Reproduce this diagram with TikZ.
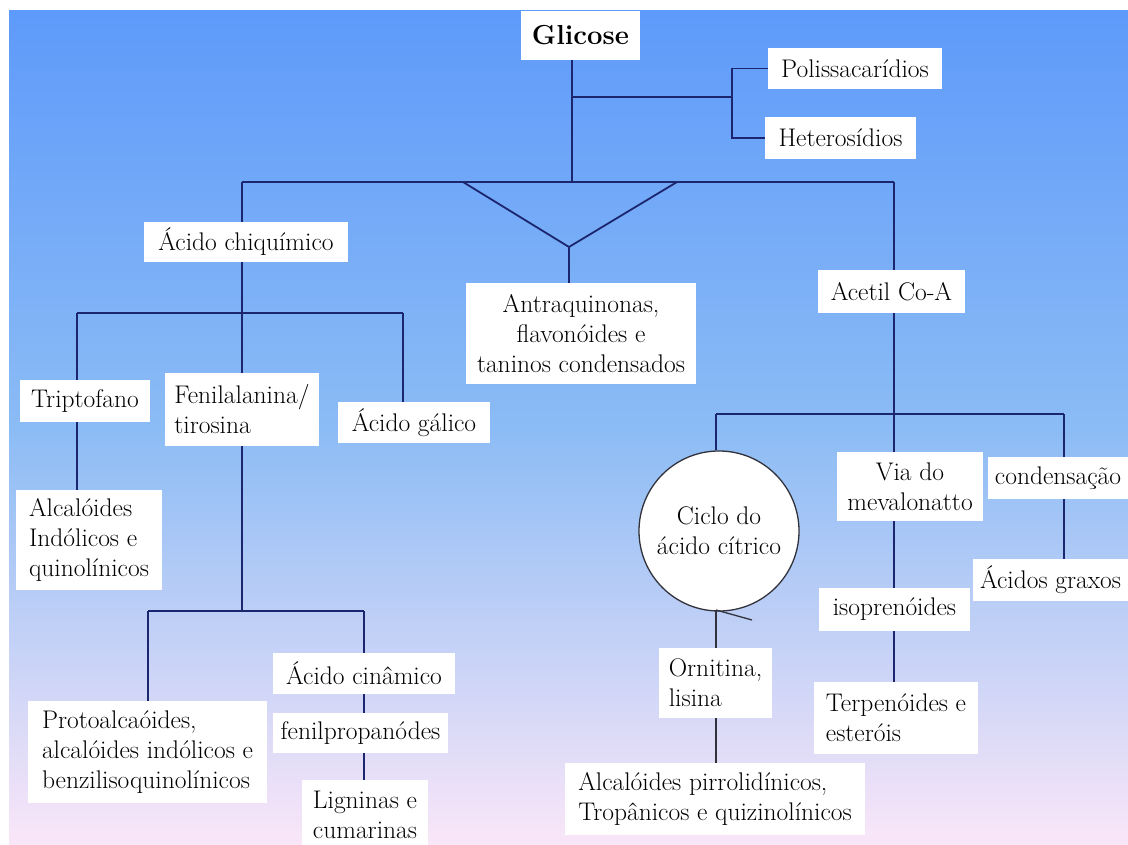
\documentclass[tikz,border=0pt]{standalone}
\usepackage{fontspec}
\definecolor{linecol}{RGB}{28,38,110}
\definecolor{circcol}{RGB}{50,50,60}
\definecolor{bgtop}{RGB}{94,154,250}
\definecolor{bgmid}{RGB}{140,188,245}
\definecolor{bgbot}{RGB}{250,230,248}
\begin{document}
\begin{tikzpicture}[x=1pt,y=-1pt,
  box/.style={fill=white, inner sep=0pt, font=\fontsize{25.5}{30}\selectfont, align=center},
  lbox/.style={box, align=left},
  ln/.style={draw=linecol, line width=1.8pt},
  thin ln/.style={draw=circcol, line width=1.3pt}
]
\useasboundingbox (0,0) rectangle (1128,845);
\fill[white] (0,0) rectangle (1128,845);
\shade[top color=bgtop, bottom color=bgmid] (9,11) rectangle (1128,431);
\shade[top color=bgmid, bottom color=bgbot] (9,430) rectangle (1128,845);

% nodes
\node[box, font=\fontsize{27.5}{33}\selectfont\bfseries, minimum width=119, minimum height=49] (glic) at (580.5,35.5) {Glicose};
\node[box, minimum width=174, minimum height=41] (polis) at (855,68.5) {Polissacarídios};
\node[box, minimum width=151, minimum height=42] (hetero) at (840.5,138) {Heterosídios};
\node[box, minimum width=204, minimum height=40] (chiq) at (246,242) {Ácido chiquímico};
\node[box, minimum width=230, minimum height=101] (antra) at (581,333.5) {Antraquinonas,\\flavonóides e\\taninos condensados};
\node[box, minimum width=147, minimum height=43] (acetil) at (891.5,291.5) {Acetil Co-A};
\node[box, minimum width=130, minimum height=42] (tript) at (85,401) {Triptofano};
\node[lbox, minimum width=146, minimum height=100] (alcind) at (89,540) {Alcalóides\\Indólicos e\\quinolínicos};
\node[lbox, minimum width=154, minimum height=73] (fenil) at (242,409.5) {Fenilalanina/\\tirosina};
\node[box, minimum width=152, minimum height=41] (galico) at (414,422.5) {Ácido gálico};
\node[circle, draw=circcol, line width=1.3pt, fill=white, inner sep=0pt, minimum size=160,
      font=\fontsize{25.5}{30}\selectfont, align=center] (ciclo) at (719,531) {Ciclo do\\ácido cítrico};
\node[box, minimum width=146, minimum height=69] (via) at (910,486.5) {Via do\\mevalonatto};
\node[box, minimum width=140, minimum height=42] (cond) at (1058,478) {condensação};
\node[box, minimum width=155, minimum height=42] (graxos) at (1050.5,580) {Ácidos graxos};
\node[box, minimum width=151, minimum height=43] (isopren) at (894.5,609.5) {isoprenóides};
\node[lbox, minimum width=164, minimum height=72] (terp) at (896,718) {Terpenóides e\\esteróis};
\node[lbox, minimum width=113, minimum height=70] (ornit) at (715.5,683) {Ornitina,\\lisina};
\node[lbox, minimum width=300, minimum height=72] (alcpir) at (715,799) {Alcalóides pirrolidínicos,\\Tropânicos e quizinolínicos};
\node[lbox, minimum width=239, minimum height=102] (proto) at (147.5,752) {Protoalcaóides,\\alcalóides indólicos e\\benzilisoquinolínicos};
\node[box, minimum width=182, minimum height=41] (cinam) at (364,673.5) {Ácido cinâmico};
\node[box, minimum width=175, minimum height=40] (fenilprop) at (360.5,733) {fenilpropanódes};
\node[box, minimum width=126, minimum height=70] (lign) at (365,815) {Ligninas e\\cumarinas};

% junctions
\coordinate (s1) at (572,97);
\coordinate (s2) at (732,97);
\coordinate (h0) at (572,182);
\coordinate (hL) at (242,182);
\coordinate (hR) at (894,182);
\coordinate (vL) at (463,182);
\coordinate (vR) at (677,182);
\coordinate (vB) at (569,247);
\coordinate (c0) at (242,313);
\coordinate (cL) at (77,313);
\coordinate (cR) at (403,313);
\coordinate (f0) at (242,611);
\coordinate (fL) at (148,611);
\coordinate (fR) at (364,611);
\coordinate (a0) at (894,414);
\coordinate (aL) at (716,414);
\coordinate (aR) at (1064,414);
\coordinate (t0) at (716,610);
\coordinate (t1) at (752,620);

% connectors
\draw[ln] (glic.south -| h0) -- (h0);
\draw[ln] (s1) -- (s2);
\draw[ln] (polis.west) -| (s2) |- (hetero.west);
\draw[ln] (hL) -- (hR);
\draw[ln] (hL) -- (chiq.north -| hL);
\draw[ln] (vL) -- (vB) -- (vR);
\draw[ln] (vB) -- (antra.north -| vB);
\draw[ln] (hR) -- (acetil.north -| hR);
\draw[ln] (chiq.south -| c0) -- (c0);
\draw[ln] (cL) -- (cR);
\draw[ln] (cL) -- (tript.north -| cL);
\draw[ln] (tript.south -| cL) -- (alcind.north -| cL);
\draw[ln] (c0) -- (fenil.north -| c0);
\draw[ln] (cR) -- (galico.north -| cR);
\draw[ln] (fenil.south -| f0) -- (f0);
\draw[ln] (fL) -- (fR);
\draw[ln] (fL) -- (proto.north -| fL);
\draw[ln] (fR) -- (cinam.north -| fR);
\draw[ln] (cinam.south -| fR) -- (fenilprop.north -| fR);
\draw[ln] (fenilprop.south -| fR) -- (lign.north -| fR);
\draw[ln] (acetil.south -| a0) -- (a0);
\draw[ln] (aL) -- (aR);
\draw[ln] (aL) -- (ciclo.north -| aL);
\draw[ln] (a0) -- (via.north -| a0);
\draw[ln] (aR) -- (cond.north -| aR);
\draw[ln] (cond.south -| aR) -- (graxos.north -| aR);
\draw[ln] (via.south -| a0) -- (isopren.north -| a0);
\draw[ln] (isopren.south -| a0) -- (terp.north -| a0);
\draw[thin ln] (t0) -- (ornit.north -| t0);
\draw[thin ln] (ornit.south -| t0) -- (alcpir.north -| t0);
\draw[thin ln] (t0) -- (t1);
\end{tikzpicture}
\end{document}
